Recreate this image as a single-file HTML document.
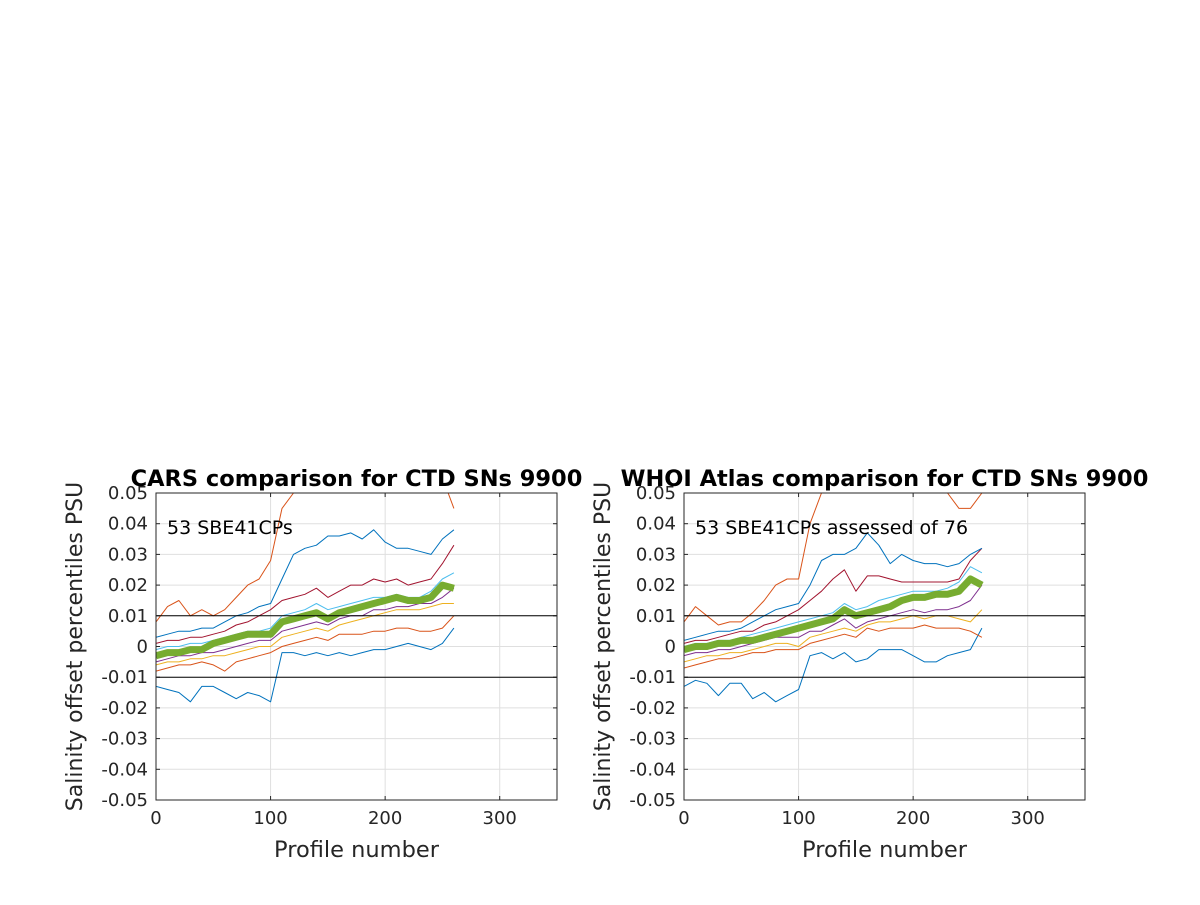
<!DOCTYPE html>
<html><head><meta charset="utf-8"><style>
body{margin:0;background:#fff;width:1200px;height:900px;overflow:hidden;font-family:"Liberation Sans","DejaVu Sans",sans-serif}
svg text{font-family:"DejaVu Sans","Liberation Sans",sans-serif}
</style></head><body>
<svg id="chart" width="1200" height="900" xmlns="http://www.w3.org/2000/svg"></svg>
<script>
const profiles=[0,10,20,30,40,50,60,70,80,90,100,110,120,130,140,150,160,170,180,190,200,210,220,230,240,250,260];
const xTicks=[0,100,200,300];
const yTicks=[-0.05,-0.04,-0.03,-0.02,-0.01,0,0.01,0.02,0.03,0.04,0.05];
const yTickLabels=["-0.05","-0.04","-0.03","-0.02","-0.01","0","0.01","0.02","0.03","0.04","0.05"];
const seriesColors=["#0072BD","#D95319","#EDB120","#7E2F8E","#4DBEEE","#A2142F","#0072BD","#D95319","#77AC30"];
const leftBlueLow=[-13,-14,-15,-18,-13,-13,-15,-17,-15,-16,-18,-2,-2,-3,-2,-3,-2,-3,-2,-1,-1,0,1,0,-1,1,6];
const leftOrangeLow=[-8,-7,-6,-6,-5,-6,-8,-5,-4,-3,-2,0,1,2,3,2,4,4,4,5,5,6,6,5,5,6,10];
const leftYellow=[-6,-5,-5,-4,-4,-3,-3,-2,-1,0,0,3,4,5,6,5,7,8,9,10,11,12,12,12,13,14,14];
const leftPurple=[-5,-4,-3,-3,-2,-2,-1,0,1,2,2,5,6,7,8,7,9,10,10,12,12,13,13,14,14,16,19];
const leftCyan=[-1,0,0,1,1,2,3,4,5,5,6,10,11,12,14,12,13,14,15,16,16,17,16,16,18,22,24];
const leftDarkRed=[1,2,2,3,3,4,5,7,8,10,12,15,16,17,19,16,18,20,20,22,21,22,20,21,22,27,33];
const leftBlueHigh=[3,4,5,5,6,6,8,10,11,13,14,22,30,32,33,36,36,37,35,38,34,32,32,31,30,35,38];
const leftOrangeHigh=[8,13,15,10,12,10,12,16,20,22,28,45,50,52,55,50,55,55,55,55,55,55,55,55,55,55,45];
const leftMedian=[-3,-2,-2,-1,-1,1,2,3,4,4,4,8,9,10,11,9,11,12,13,14,15,16,15,15,16,20,19];
const rightBlueLow=[-13,-11,-12,-16,-12,-12,-17,-15,-18,-16,-14,-3,-2,-4,-2,-5,-4,-1,-1,-1,-3,-5,-5,-3,-2,-1,6];
const rightOrangeLow=[-7,-6,-5,-4,-4,-3,-2,-2,-1,-1,-1,1,2,3,4,3,6,5,6,6,6,7,6,6,6,5,3];
const rightYellow=[-5,-4,-3,-3,-2,-2,-1,0,1,1,0,3,4,5,6,5,7,8,8,9,10,9,10,10,9,8,12];
const rightPurple=[-3,-2,-2,-1,-1,0,1,2,3,3,3,5,5,7,9,6,8,9,10,11,12,11,12,12,13,15,20];
const rightCyan=[0,1,1,2,2,3,4,5,6,7,8,9,10,11,14,12,13,15,16,17,18,18,18,19,21,26,24];
const rightDarkRed=[1,2,2,3,4,5,5,7,8,10,12,15,18,22,25,18,23,23,22,21,21,21,21,21,22,28,32];
const rightBlueHigh=[2,3,4,5,5,6,8,10,12,13,14,20,28,30,30,32,37,33,27,30,28,27,27,26,27,30,32];
const rightOrangeHigh=[8,13,10,7,8,8,11,15,20,22,22,40,50,55,55,55,55,55,55,55,55,55,55,50,45,45,50];
const rightMedian=[-1,0,0,1,1,2,2,3,4,5,6,7,8,9,12,10,11,12,13,15,16,16,17,17,18,22,20];

const NS="http://www.w3.org/2000/svg";
const svg=document.getElementById('chart');
function mk(tag,attrs,parent){const e=document.createElementNS(NS,tag);for(const k in attrs)e.setAttribute(k,attrs[k]);(parent||svg).appendChild(e);return e;}

function panel(id,x0,title,note,series){
  const x1=x0+401,yTop=493,yBot=800;
  const xs=v=>x0+(v/350)*(x1-x0);
  const ys=v=>yBot-(v+0.05)/0.1*(yBot-yTop);
  const g=mk('g',{});
  
  
  mk('rect',{x:x0,y:yTop,width:x1-x0,height:yBot-yTop,fill:'#fff'},g);
  const cp=mk('clipPath',{id:id+'clip'},g);
  mk('rect',{x:x0,y:yTop,width:x1-x0,height:yBot-yTop},cp);
  xTicks.forEach(t=>{
    const l=mk('line',{x1:xs(t),x2:xs(t),y1:yTop,y2:yBot,stroke:'#dfdfdf','stroke-width':1},g);
    
    
    mk('line',{x1:xs(t),x2:xs(t),y1:yBot,y2:yBot-4,stroke:'#262626'},g);
    mk('line',{x1:xs(t),x2:xs(t),y1:yTop,y2:yTop+4,stroke:'#262626'},g);
    const tx=mk('text',{x:xs(t),y:yBot+24,'text-anchor':'middle','font-size':18,fill:'#262626'},g);
    tx.textContent=t;
    
    
  });
  yTicks.forEach((t,i)=>{
    const l=mk('line',{x1:x0,x2:x1,y1:ys(t),y2:ys(t),stroke:'#dfdfdf','stroke-width':1},g);
    
    
    mk('line',{x1:x0,x2:x0+4,y1:ys(t),y2:ys(t),stroke:'#262626'},g);
    mk('line',{x1:x1,x2:x1-4,y1:ys(t),y2:ys(t),stroke:'#262626'},g);
    const tx=mk('text',{x:x0-8,y:ys(t)+6,'text-anchor':'end','font-size':18,fill:'#262626'},g);
    tx.textContent=yTickLabels[i];
    
    
  });
  const lg=mk('g',{'clip-path':'url(#'+id+'clip)'},g);
  series.forEach((arr,si)=>{
    const d=arr.map((v,i)=>(i?'L':'M')+xs(profiles[i]).toFixed(1)+','+ys(v/1000).toFixed(1)).join(' ');
    const p=mk('path',{d:d,fill:'none',stroke:seriesColors[si],'stroke-width':si===8?7:1,'stroke-linejoin':'round'},lg);
    
    
  });
  [0.01,-0.01].forEach(t=>{
    const l=mk('line',{x1:x0,x2:x1,y1:ys(t),y2:ys(t),stroke:'#000','stroke-width':1},g);
    
    
  });
  mk('rect',{x:x0,y:yTop,width:x1-x0,height:yBot-yTop,fill:'none',stroke:'#262626','stroke-width':1},g);
  const n=mk('text',{x:x0+11,y:yTop+41,'font-size':19,fill:'#000'},g);
  n.textContent=note;
  
  
  const tt=mk('text',{x:(x0+x1)/2,y:yTop-7,'text-anchor':'middle','font-size':22.5,'font-weight':'bold',fill:'#000'},g);
  tt.textContent=title;
  
  
  const xl=mk('text',{x:(x0+x1)/2,y:yBot+57,'text-anchor':'middle','font-size':22.5,fill:'#262626'},g);
  xl.textContent='Profile number';
  
  
  const yl=mk('text',{x:0,y:0,'text-anchor':'middle','font-size':22,fill:'#262626',transform:'translate('+(x0-74)+','+((yTop+yBot)/2)+') rotate(-90)'},g);
  yl.textContent='Salinity offset percentiles PSU';
  
  
}
panel('cars',156,'CARS comparison for CTD SNs 9900','53 SBE41CPs',[leftBlueLow,leftOrangeLow,leftYellow,leftPurple,leftCyan,leftDarkRed,leftBlueHigh,leftOrangeHigh,leftMedian]);
panel('whoi',684,'WHOI Atlas comparison for CTD SNs 9900','53 SBE41CPs assessed of 76',[rightBlueLow,rightOrangeLow,rightYellow,rightPurple,rightCyan,rightDarkRed,rightBlueHigh,rightOrangeHigh,rightMedian]);
</script>
</body></html>
